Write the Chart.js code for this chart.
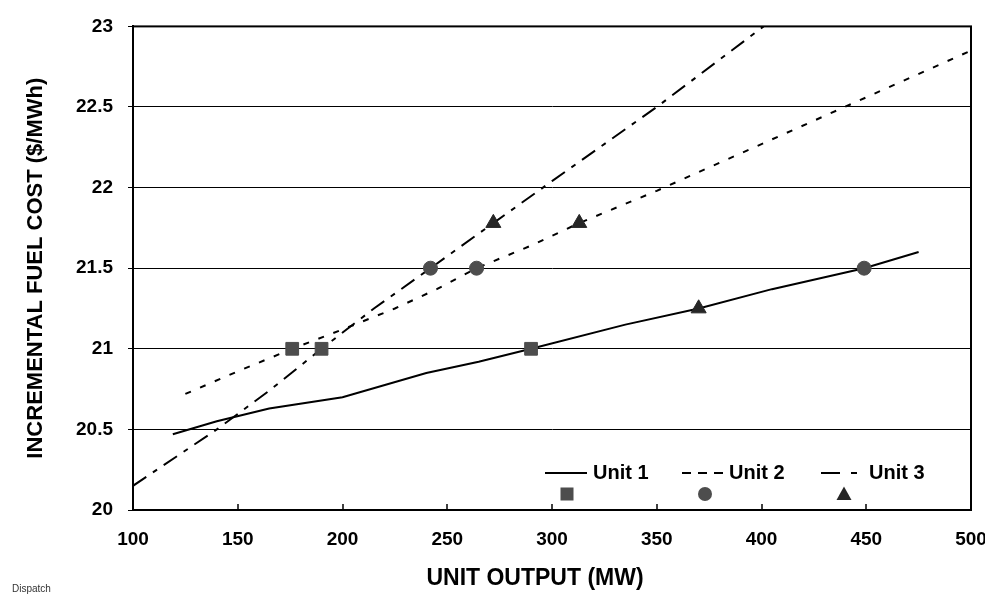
<!DOCTYPE html>
<html>
<head>
<meta charset="utf-8"/>
<title>Unit Dispatch</title>
<script src="https://cdn.jsdelivr.net/npm/chart.js@4.4.0/dist/chart.umd.min.js"></script>
<style>
  body { margin: 0; width: 985px; height: 594px; overflow: hidden; background: #fff; position: relative; }
  #note { position: absolute; left: 12px; top: 583px; font: 10px "Liberation Sans", Arial, sans-serif; color: #333; }
</style>
</head>
<body>
<canvas id="dispatchChart" width="985" height="594"></canvas>
<div id="note">Dispatch</div>
<script>
// incremental cost curves (MW, $/MWh)
const unit1Output = [119, 140, 165, 200, 240, 265, 290, 335, 370, 405, 449, 475];
const unit1Cost = [20.47, 20.55, 20.63, 20.70, 20.85, 20.92, 21.0, 21.15, 21.25, 21.37, 21.5, 21.6];

const unit2Output = [125, 150, 176, 200, 225, 245, 264, 290, 313, 350, 400, 450, 500];
const unit2Cost = [20.72, 20.86, 21.0, 21.12, 21.25, 21.37, 21.5, 21.64, 21.78, 21.98, 22.27, 22.56, 22.85];

const unit3Output = [100, 140, 165, 190, 215, 242, 272, 300, 350, 401];
const unit3Cost = [20.15, 20.5, 20.74, 21.0, 21.25, 21.5, 21.78, 22.04, 22.5, 23.0];

// dispatch points at each system lambda
const squareOutput = [176, 190, 290];
const squareCost = [21.0, 21.0, 21.0];
const circleOutput = [242, 264, 449];
const circleCost = [21.5, 21.5, 21.5];
const triangleOutput = [272, 313, 370];
const triangleCost = [21.78, 21.78, 21.25];

const unitNames = ['Unit 1', 'Unit 2', 'Unit 3'];
const outputTicks = [100, 150, 200, 250, 300, 350, 400, 450, 500];
const costTicks = [20, 20.5, 21, 21.5, 22, 22.5, 23];
const outputTitle = 'UNIT OUTPUT (MW)';

const FONT = '"Liberation Sans", Arial, sans-serif';
const toPoints = (xs, ys) => xs.map((x, i) => ({ x: x, y: ys[i] }));

// box around the plot, small inward ticks on the output axis, output axis title
const frameAndTicks = {
  id: 'frameAndTicks',
  afterDatasetsDraw(chart) {
    const { ctx, chartArea: a, scales: { x } } = chart;
    ctx.save();
    ctx.strokeStyle = '#000';
    ctx.lineWidth = 2;
    ctx.strokeRect(a.left, a.top, a.right - a.left, a.bottom - a.top);
    ctx.lineWidth = 1.5;
    outputTicks.slice(1, -1).forEach(v => {
      const px = Math.round(x.getPixelForValue(v));
      ctx.beginPath();
      ctx.moveTo(px, a.bottom);
      ctx.lineTo(px, a.bottom - 6);
      ctx.stroke();
    });
    ctx.fillStyle = '#000';
    ctx.font = 'bold 23px ' + FONT;
    ctx.textAlign = 'center';
    ctx.textBaseline = 'middle';
    ctx.fillText(outputTitle, a.left + 402, a.bottom + 69);
    ctx.restore();
  }
};

// key in the lower right of the plot: line styles on top, markers below
const unitKey = {
  id: 'unitKey',
  afterDraw(chart) {
    const { ctx, chartArea: a } = chart;
    const L = a.left;
    const row1 = a.bottom - 37;
    const row2 = a.bottom - 16;
    const seg = (x1, x2, dash) => {
      ctx.setLineDash(dash);
      ctx.beginPath();
      ctx.moveTo(L + x1, row1);
      ctx.lineTo(L + x2, row1);
      ctx.stroke();
    };
    ctx.save();
    ctx.strokeStyle = '#000';
    ctx.lineWidth = 2;
    seg(412, 454, []);
    seg(549, 590, [9, 7]);
    seg(688, 725, [19, 11, 6, 100]);
    ctx.setLineDash([]);

    ctx.fillStyle = '#000';
    ctx.font = 'bold 20px ' + FONT;
    ctx.textBaseline = 'middle';
    ctx.textAlign = 'left';
    ctx.fillText(unitNames[0], L + 460, row1);
    ctx.fillText(unitNames[1], L + 596, row1);
    ctx.fillText(unitNames[2], L + 736, row1);

    ctx.fillStyle = '#4d4d4d';
    ctx.fillRect(L + 434 - 6.5, row2 - 6.5, 13, 13);
    ctx.beginPath();
    ctx.arc(L + 572, row2, 7, 0, Math.PI * 2);
    ctx.fill();
    ctx.fillStyle = '#262626';
    ctx.beginPath();
    ctx.moveTo(L + 711, row2 - 7.5);
    ctx.lineTo(L + 718.5, row2 + 6);
    ctx.lineTo(L + 703.5, row2 + 6);
    ctx.closePath();
    ctx.fill();
    ctx.restore();
  }
};

const lineSet = (name, xs, ys, dash) => ({
  label: name,
  data: toPoints(xs, ys),
  showLine: true,
  borderColor: '#000',
  borderWidth: 2,
  borderDash: dash,
  pointRadius: 0,
  tension: 0,
  order: 2
});

const markerSet = (xs, ys, style, radius, color) => ({
  data: toPoints(xs, ys),
  showLine: false,
  pointStyle: style,
  pointRadius: radius,
  backgroundColor: color,
  borderColor: color,
  borderWidth: 1,
  order: 1
});

new Chart(document.getElementById('dispatchChart'), {
  type: 'scatter',
  data: {
    datasets: [
      lineSet(unitNames[0], unit1Output, unit1Cost, []),
      lineSet(unitNames[1], unit2Output, unit2Cost, [6, 10]),
      lineSet(unitNames[2], unit3Output, unit3Cost, [16, 8, 5, 8]),
      markerSet(squareOutput, squareCost, 'rect', 9, '#4d4d4d'),
      markerSet(circleOutput, circleCost, 'circle', 7, '#4d4d4d'),
      markerSet(triangleOutput, triangleCost, 'triangle', 8.7, '#262626')
    ]
  },
  options: {
    responsive: false,
    animation: false,
    layout: { padding: { top: 22, right: 14, left: 0, bottom: 0 } },
    plugins: { legend: { display: false }, tooltip: { enabled: false } },
    scales: {
      x: {
        type: 'linear',
        min: 100,
        max: 500,
        afterBuildTicks: s => { s.ticks = outputTicks.map(v => ({ value: v })); },
        afterFit: s => { s.height = 84; s.paddingLeft = 0; s.paddingRight = 0; },
        grid: { display: false, drawTicks: false },
        border: { display: true, color: '#000', width: 2 },
        ticks: { color: '#000', padding: 18, font: { family: FONT, size: 19, weight: 'bold' } }
      },
      y: {
        type: 'linear',
        min: 20,
        max: 23,
        afterBuildTicks: s => { s.ticks = costTicks.map(v => ({ value: v })); },
        afterFit: s => { s.width = 133; },
        grid: { color: '#000', lineWidth: 1, tickLength: 5, tickColor: '#000' },
        border: { display: true, color: '#000', width: 2 },
        ticks: {
          color: '#000',
          padding: 15,
          font: { family: FONT, size: 19, weight: 'bold' },
          callback: v => String(v)
        },
        title: {
          display: true,
          text: 'INCREMENTAL FUEL COST ($/MWh)',
          color: '#000',
          padding: { top: 23, bottom: 0 },
          font: { family: FONT, size: 22, weight: 'bold' }
        }
      }
    }
  },
  plugins: [frameAndTicks, unitKey]
});
</script>
</body>
</html>
